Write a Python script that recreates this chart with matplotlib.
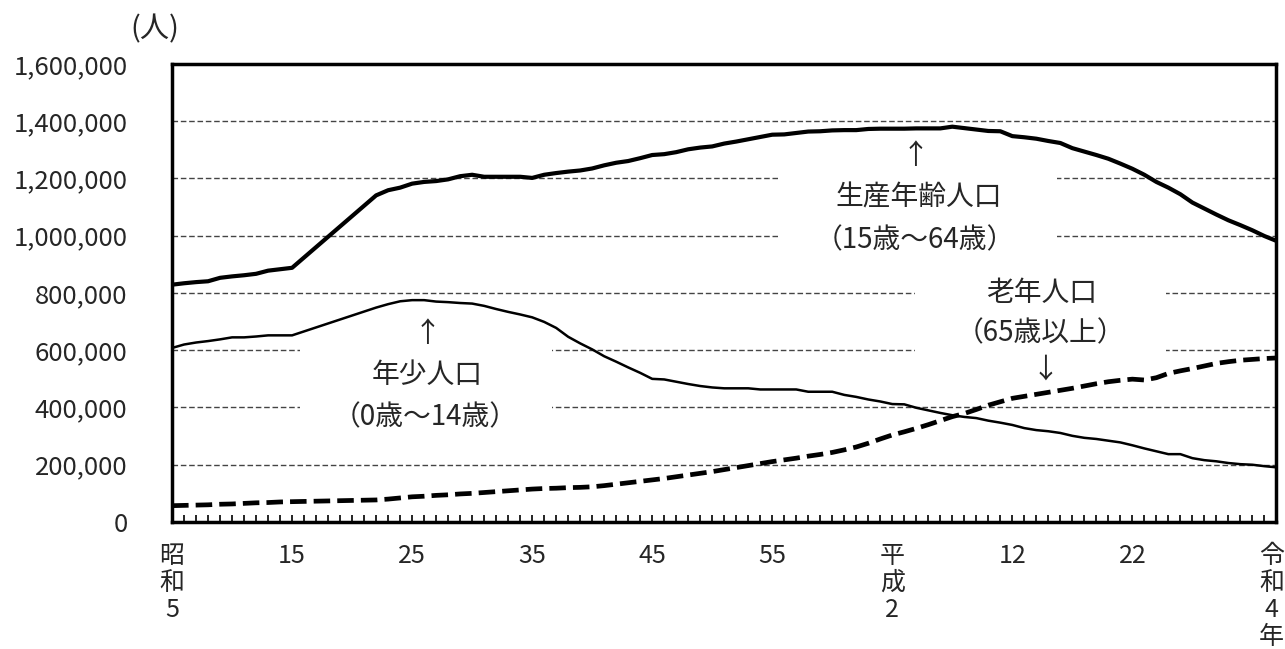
import matplotlib
matplotlib.use('Agg')
import matplotlib.pyplot as plt
import matplotlib.ticker as mticker
from matplotlib.patches import Rectangle
from matplotlib.transforms import ScaledTranslation

plt.rcParams['font.family'] = ['Noto Sans CJK JP', 'DejaVu Sans']

# 1941-1946 have no data, the lines just jump over that gap
years = list(range(1930, 1941)) + list(range(1947, 2023))

working = [829, 834, 838, 841, 853, 858, 862, 867, 878, 883, 888,
           1141, 1159, 1168, 1182, 1188, 1191, 1197, 1208, 1213, 1206, 1206, 1206, 1206, 1202,
           1213, 1219, 1224, 1228, 1235, 1246, 1255, 1261, 1271, 1282,
           1285, 1292, 1302, 1308, 1312, 1322, 1329, 1337, 1345, 1353,
           1354, 1359, 1364, 1365, 1368, 1369, 1369, 1373, 1374, 1374,
           1374, 1375, 1375, 1375, 1381, 1376, 1371, 1366, 1365, 1348,
           1344, 1339, 1331, 1324, 1306, 1294, 1282, 1269, 1252, 1234,
           1213, 1188, 1168, 1145, 1116, 1095, 1074, 1054, 1037, 1019,
           999, 982]

young = [608, 620, 627, 632, 638, 645, 645, 648, 652, 652, 652,
         749, 761, 771, 775, 775, 770, 768, 765, 763, 755, 744, 734, 725, 715,
         699, 678, 647, 624, 603, 579, 560, 540, 521, 500,
         498, 490, 482, 475, 470, 467, 467, 467, 463, 463,
         463, 463, 455, 455, 455, 444, 437, 428, 421, 412,
         411, 399, 390, 381, 373, 367, 363, 354, 347, 339,
         328, 321, 317, 311, 301, 294, 290, 284, 278, 268,
         257, 247, 237, 237, 223, 216, 212, 206, 202, 200,
         195, 191]

old = [57, 58, 59, 60, 62, 63, 65, 67, 68, 70, 71,
       77, 80, 84, 88, 90, 93, 95, 98, 100, 103, 106, 109, 112, 115,
       117, 118, 120, 121, 123, 127, 132, 137, 142, 147,
       152, 158, 164, 170, 176, 183, 190, 197, 204, 211,
       217, 223, 230, 236, 243, 252, 262, 275, 290, 304,
       315, 327, 340, 354, 368, 379, 393, 408, 420, 432,
       439, 446, 453, 460, 467, 475, 483, 490, 495, 499,
       496, 504, 519, 528, 536, 545, 554, 560, 565, 568,
       571, 573]

working = [v * 1000 for v in working]
young = [v * 1000 for v in young]
old = [v * 1000 for v in old]

tick_years = [1930, 1940, 1950, 1960, 1970, 1980, 1990, 2000, 2010, 2022]
tick_labels = ['昭\n和\n5', '15', '25', '35', '45', '55', '平\n成\n2', '12', '22', '令\n和\n4\n年']
y_ticks = [0, 200000, 400000, 600000, 800000, 1000000, 1200000, 1400000, 1600000]

txt = '#262626'

fig = plt.figure(figsize=(12.85, 6.49), dpi=100)
ax = fig.add_axes([0.1339, 0.1957, 0.8594, 0.7057])

for yv in y_ticks[1:-1]:
    ax.axhline(yv, color='#444444', lw=1.0, ls=(0, (4, 2)), zorder=0.5)

# white panels behind the labels (they cut the grid lines)
ax.add_patch(Rectangle((1980.5, 900000), 23.25, 430000, fc='white', ec='none', zorder=1))
ax.add_patch(Rectangle((1991.9, 450000), 20.9, 430000, fc='white', ec='none', zorder=1))
ax.add_patch(Rectangle((1940.67, 300000), 21.0, 390000, fc='white', ec='none', zorder=1))

ax.plot(years, working, color='black', lw=3.0, solid_joinstyle='round', zorder=3)
ax.plot(years, young, color='black', lw=1.8, solid_joinstyle='round', zorder=3)
ax.plot(years, old, color='black', lw=3.4, ls=(0, (3.5, 1.5)), dash_capstyle='butt', zorder=3)

ax.set_xlim(1930, 2022)
ax.set_ylim(0, 1600000)

ax.set_xticks(tick_years)
ax.set_xticklabels(tick_labels, linespacing=1.06)
ax.set_xticks(range(1931, 2022), minor=True)
ax.tick_params(axis='x', which='both', direction='in', length=5, width=1.2, color='black')
ax.tick_params(axis='x', which='major', pad=15, labelsize=18, labelcolor=txt)
# last label sits on the right edge, nudge it in a little
last = ax.get_xticklabels()[-1]
last.set_transform(last.get_transform() + ScaledTranslation(-5 / 100, 0, fig.dpi_scale_trans))

ax.set_yticks(y_ticks)
ax.yaxis.set_major_formatter(mticker.FuncFormatter(lambda v, p: '{:,.0f}'.format(v)))
ax.tick_params(axis='y', length=0, pad=32, labelsize=18.5, labelcolor=txt)

for s in ax.spines.values():
    s.set_linewidth(2.5)
    s.set_color('black')

fs = 20
ax.text(1991.9, 1278000, '↑', ha='center', va='center', fontsize=fs, color=txt, zorder=4)
ax.text(1992.2, 1135000, '生産年齢人口', ha='center', va='center', fontsize=fs, color=txt, zorder=4)
ax.text(1991.9, 985000, '（15歳～64歳）', ha='center', va='center', fontsize=fs, color=txt, zorder=4)

ax.text(2002.4, 800000, '老年人口', ha='center', va='center', fontsize=fs, color=txt, zorder=4)
ax.text(2002.3, 660000, '（65歳以上）', ha='center', va='center', fontsize=fs, color=txt, zorder=4)
ax.text(2002.75, 531000, '↓', ha='center', va='center', fontsize=fs, color=txt, zorder=4)

ax.text(1951.25, 657000, '↑', ha='center', va='center', fontsize=fs, color=txt, zorder=4)
ax.text(1951.25, 513000, '年少人口', ha='center', va='center', fontsize=fs, color=txt, zorder=4)
ax.text(1951.1, 367000, '（0歳～14歳）', ha='center', va='center', fontsize=fs, color=txt, zorder=4)

fig.text(155 / 1285, 1 - 29 / 649, '(人)', ha='center', va='center', fontsize=21, color=txt)

fig.savefig('out.png', dpi=100)
